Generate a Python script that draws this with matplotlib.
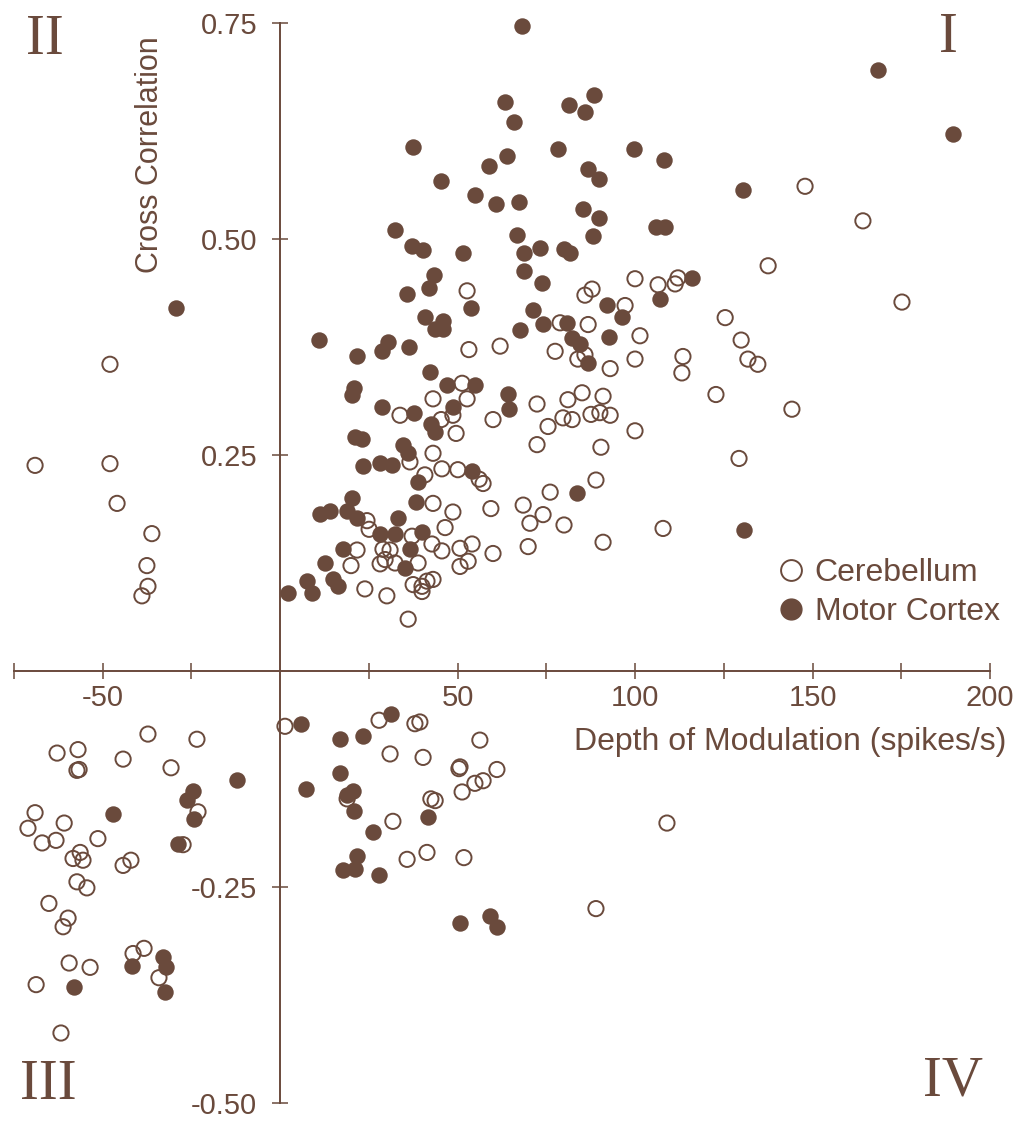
import matplotlib
matplotlib.use("Agg")
import matplotlib.pyplot as plt
from matplotlib.lines import Line2D

BROWN = '#6a4a3c'

# Motor cortex (filled), positive correlations
motor_pos_x = [68.2, 168.5, 189.6, 63.4, 65.9, 88.5, 81.4, 85.9, 78.3, 99.7,
               108.2, 58.9, 63.9, 86.8, 89.9, 54.9, 60.8, 67.3, 85.4, 89.9,
               105.9, 108.5, 66.8, 88.2, 51.5, 68.7, 73.2, 80.0, 81.7, 68.7,
               73.8, 37.5, 45.4, 32.4, 37.2, 40.3, 43.4, 42.0, 35.8, 53.8,
               40.8, 45.9, 43.7, 45.9, 11.0, 21.7, 28.7, 30.4, 36.3, 42.3,
               47.0, 54.9, 20.8, 20.3, 28.7, 37.7, 48.7, 42.5, 43.7, 21.1,
               23.1, 34.6, 36.1, 23.4, 28.2, 31.5, 38.9, 54.1, 20.3, 38.3,
               11.3, 14.1, 18.9, 21.7, 33.2, 28.2, 32.4, 40.0, 17.7, 36.6,
               12.7, 35.2, 7.6, 9.0, 14.9, 16.3, 2.3, 71.3, 74.1, 67.6,
               80.8, 92.1, 96.3, 107.0, 92.7, 82.3, 84.5, 86.8, 64.2, 64.5,
               83.7, 116.1, 130.4, 130.7, -29.3]
motor_pos_y = [0.747, 0.696, 0.621, 0.659, 0.635, 0.667, 0.655, 0.647, 0.604, 0.604,
               0.591, 0.585, 0.596, 0.581, 0.569, 0.551, 0.540, 0.543, 0.535, 0.524,
               0.514, 0.514, 0.505, 0.503, 0.484, 0.484, 0.490, 0.488, 0.484, 0.463,
               0.449, 0.606, 0.567, 0.510, 0.492, 0.487, 0.458, 0.443, 0.436, 0.420,
               0.410, 0.405, 0.396, 0.396, 0.383, 0.365, 0.370, 0.381, 0.375, 0.346,
               0.331, 0.331, 0.328, 0.320, 0.305, 0.299, 0.305, 0.286, 0.277, 0.271,
               0.268, 0.261, 0.252, 0.237, 0.241, 0.239, 0.219, 0.232, 0.200, 0.196,
               0.182, 0.185, 0.185, 0.177, 0.177, 0.158, 0.158, 0.161, 0.141, 0.141,
               0.125, 0.119, 0.104, 0.090, 0.106, 0.098, 0.090, 0.418, 0.402, 0.395,
               0.403, 0.424, 0.410, 0.430, 0.387, 0.385, 0.379, 0.357, 0.321, 0.303,
               0.206, 0.455, 0.557, 0.163, 0.420]

# Motor cortex, negative correlations
motor_neg_x = [5.9, 16.9, 23.4, 31.3, 16.9, 7.3, 20.6, 18.9, 20.8, 41.7,
               26.2, 21.7, 17.7, 21.1, 27.9, 50.7, 59.2, 61.1, -12.1, -24.5,
               -26.2, -24.2, -47.0, -28.7, -41.7, -33.0, -32.1, -32.4, -58.0]
motor_neg_y = [-0.061, -0.079, -0.075, -0.050, -0.118, -0.136, -0.139, -0.144, -0.162, -0.169,
               -0.186, -0.214, -0.230, -0.229, -0.236, -0.292, -0.284, -0.296, -0.126, -0.139,
               -0.149, -0.171, -0.165, -0.200, -0.342, -0.331, -0.343, -0.371, -0.366]

# Cerebellum (open), positive correlations
cereb_pos_x = [51.3, 43.1, 52.7, 33.8, 45.4, 48.7, 49.6, 43.1, 36.6, 45.6,
               50.1, 40.8, 56.1, 57.2, 43.1, 48.7, 24.5, 25.1, 46.5, 42.8,
               45.6, 37.2, 50.7, 54.1, 21.7, 29.0, 31.0, 20.0, 28.2, 29.6,
               32.4, 38.9, 50.7, 53.0, 37.5, 40.0, 41.4, 43.1, 40.0, 23.9,
               30.1, 36.1, 52.7, 53.2, 85.9, 87.9, 100.0, 106.5, 112.1, 111.3,
               97.2, 78.9, 86.8, 62.0, 77.5, 83.9, 85.9, 93.0, 101.4, 100.0,
               72.4, 81.1, 85.1, 91.0, 60.0, 79.7, 82.3, 87.6, 90.1, 93.0,
               75.5, 100.0, 72.4, 90.4, 89.0, 76.1, 59.4, 68.5, 74.1, 70.4,
               80.0, 107.9, 60.0, 69.9, 91.0, 125.4, 129.9, 131.8, 134.6, 113.5,
               113.2, 122.8, 144.2, 129.3, 147.9, 164.2, 137.5, 175.2,
               -69.0, -47.9, -47.9, -45.9, -36.1, -37.5, -37.2, -38.9]
cereb_pos_y = [0.333, 0.315, 0.315, 0.296, 0.291, 0.296, 0.275, 0.252, 0.242, 0.234,
               0.233, 0.227, 0.222, 0.217, 0.194, 0.184, 0.174, 0.164, 0.166, 0.147,
               0.139, 0.156, 0.142, 0.147, 0.140, 0.141, 0.140, 0.122, 0.124, 0.129,
               0.125, 0.125, 0.121, 0.127, 0.100, 0.098, 0.104, 0.106, 0.092, 0.095,
               0.087, 0.060, 0.440, 0.372, 0.435, 0.442, 0.454, 0.447, 0.455, 0.448,
               0.423, 0.403, 0.401, 0.376, 0.370, 0.361, 0.366, 0.350, 0.388, 0.361,
               0.309, 0.314, 0.322, 0.318, 0.291, 0.293, 0.291, 0.297, 0.299, 0.296,
               0.283, 0.278, 0.262, 0.259, 0.221, 0.207, 0.188, 0.192, 0.181, 0.171,
               0.169, 0.165, 0.136, 0.144, 0.149, 0.409, 0.383, 0.361, 0.355, 0.364,
               0.345, 0.320, 0.303, 0.246, 0.561, 0.521, 0.469, 0.427,
               0.238, 0.355, 0.240, 0.194, 0.159, 0.122, 0.098, 0.087]

# Cerebellum, negative correlations
cereb_neg_x = [1.4, 27.9, 38.0, 39.4, 56.3, 31.0, 40.3, 50.4, 50.7, 61.1,
               54.9, 57.2, 51.3, 42.5, 43.7, 18.9, 31.8, 35.8, 41.4, 51.8,
               89.0, 109.0,
               -37.2, -23.4, -62.8, -56.9, -44.2, -57.2, -56.6, -30.7, -69.0, -60.8,
               -71.0, -67.0, -63.1, -51.3, -56.3, -58.3, -55.5, -44.2, -42.0, -23.1,
               -27.3, -57.2, -54.4, -65.1, -59.7, -61.1, -41.4, -38.3, -59.4, -53.5,
               -68.7, -34.1, -61.7]
cereb_neg_y = [-0.064, -0.057, -0.061, -0.059, -0.080, -0.096, -0.100, -0.113, -0.111, -0.114,
               -0.130, -0.127, -0.140, -0.148, -0.150, -0.148, -0.174, -0.218, -0.210, -0.216,
               -0.275, -0.176,
               -0.073, -0.079, -0.095, -0.091, -0.102, -0.115, -0.114, -0.112, -0.164, -0.176,
               -0.182, -0.199, -0.196, -0.194, -0.210, -0.217, -0.219, -0.225, -0.219, -0.163,
               -0.201, -0.244, -0.251, -0.269, -0.286, -0.296, -0.327, -0.321, -0.338, -0.343,
               -0.363, -0.355, -0.419]

x_ticks = [-75, -50, -25, 25, 50, 75, 100, 125, 150, 175, 200]
x_labels = ['', '-50', '', '', '50', '', '100', '', '150', '', '200']
y_ticks = [-0.5, -0.25, 0.25, 0.5, 0.75]
y_labels = ['-0.50', '-0.25', '0.25', '0.50', '0.75']

plt.rcParams['font.family'] = ['Liberation Sans', 'DejaVu Sans']

fig = plt.figure(figsize=(10.2, 11.21), dpi=100)
ax = fig.add_axes([10 / 1020, 18 / 1121, 980 / 1020, 1080 / 1121])
ax.set_xlim(-76.06, 200)
ax.set_ylim(-0.5, 0.75)

ax.scatter(cereb_pos_x + cereb_neg_x, cereb_pos_y + cereb_neg_y, s=120,
           facecolors='none', edgecolors=BROWN, linewidths=1.4, clip_on=False, zorder=3)
ax.scatter(motor_pos_x + motor_neg_x, motor_pos_y + motor_neg_y, s=140,
           color=BROWN, linewidths=0, clip_on=False, zorder=4)

# axes cross at the origin
for side in ['top', 'right']:
    ax.spines[side].set_visible(False)
ax.spines['left'].set_position(('data', 0))
ax.spines['bottom'].set_position(('data', 0))
ax.spines['bottom'].set_bounds(-75, 200)
for side in ['left', 'bottom']:
    ax.spines[side].set_color(BROWN)
    ax.spines[side].set_linewidth(1.4)

ax.set_xticks(x_ticks)
ax.set_xticklabels(x_labels)
ax.set_yticks(y_ticks)
ax.set_yticklabels(y_labels)
ax.tick_params(direction='inout', length=11, width=1.1, color=BROWN,
               labelcolor=BROWN, labelsize=21)
ax.tick_params(axis='x', pad=4)
ax.tick_params(axis='y', pad=11)

fig.text(150 / 1020, 1 - 155 / 1121, 'Cross Correlation', rotation=90,
         ha='center', va='center', fontsize=22, color=BROWN)
fig.text(1006 / 1020, 1 - 742 / 1121, 'Depth of Modulation (spikes/s)',
         ha='right', va='center', fontsize=23, color=BROWN)

# quadrant numerals
for label, px, py in [('II', 45, 40), ('I', 948, 38), ('III', 48, 1085), ('IV', 953, 1082)]:
    fig.text(px / 1020, 1 - py / 1121, label, ha='center', va='center',
             fontsize=41, color=BROWN, family='Liberation Serif')

handles = [Line2D([], [], ls='none', marker='o', ms=15, mfc='none', mec=BROWN, mew=1.4),
           Line2D([], [], ls='none', marker='o', ms=15, mfc=BROWN, mec=BROWN)]
leg = ax.legend(handles, ['Cerebellum', 'Motor Cortex'], frameon=False, fontsize=23,
                loc='upper left', bbox_to_anchor=(762 / 1020, 1 - 545 / 1121),
                bbox_transform=fig.transFigure, handletextpad=0.25,
                labelspacing=0.3, handlelength=1.0, borderaxespad=0)
for t in leg.get_texts():
    t.set_color(BROWN)

fig.savefig('out.png', dpi=100, facecolor='white')
